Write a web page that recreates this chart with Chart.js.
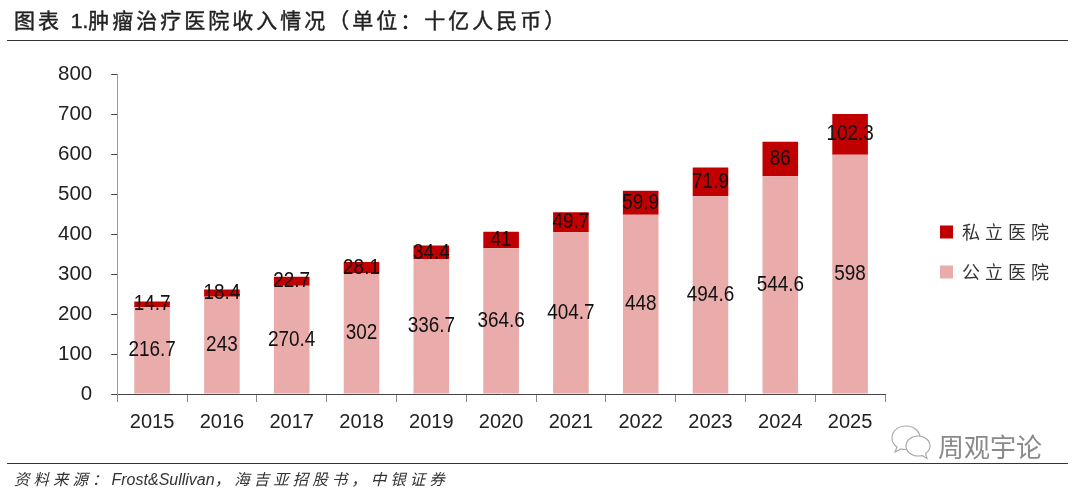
<!DOCTYPE html>
<html>
<head>
<meta charset="utf-8">
<script src="https://cdn.jsdelivr.net/npm/chart.js@4/dist/chart.umd.min.js"></script>
<style>
html,body{margin:0;padding:0;background:#fff;overflow:hidden;}
#wrap{position:relative;width:1080px;height:493px;}
#myChart{position:absolute;left:0;top:0;}
.title{position:absolute;left:14px;top:4px;font:21px "Liberation Sans","Noto Sans CJK SC";letter-spacing:3px;color:#222;white-space:nowrap;-webkit-text-stroke:0.4px #222;}
.title span{letter-spacing:0;}
.rule{position:absolute;left:7px;width:1061px;height:1px;background:#333;}
.source{position:absolute;left:14px;top:467px;font:italic 15.5px "Liberation Sans","Noto Sans CJK SC";letter-spacing:4px;color:#333;white-space:nowrap;}
.source span{font:italic 16px "Liberation Sans";letter-spacing:0;}
.mark{position:absolute;left:938px;top:427px;font:26px "Noto Sans CJK SC";color:#8a8a8a;white-space:nowrap;}
.icon{position:absolute;left:886px;top:424px;}
</style>
</head>
<body>
<div id="wrap">
	<canvas id="myChart" width="1080" height="493"></canvas>
	<div class="title">图表 <span>1.</span>肿瘤治疗医院收入情况（单位：十亿人民币）</div>
	<div class="rule" style="top:40px"></div>
	<div class="rule" style="top:463px"></div>
	<div class="source">资料来源：<span>Frost&amp;Sullivan</span>，海吉亚招股书，中银证券</div>
	<svg class="icon" width="50" height="40" viewBox="0 0 50 40" fill="#fff" stroke="#aaa" stroke-width="1.2">
		<path d="M20 2c-8 0-14 5-14 12 0 4 2 7 5 9l-2 5 6-3c2 .5 3 .5 5 .5 8 0 14-6 14-12S28 2 20 2z"/>
		<path d="M32 12c-7 0-12 4.500-12 10s5 10 12 10c1.500 0 3 0 4-.5l5 3-1.500-5c3-2 4.500-4.500 4.500-7.500 0-5.500-5-10-12-10z"/>
	</svg>
	<div class="mark">周观宇论</div>
</div>
<script>
var years   = ["2015","2016","2017","2018","2019","2020","2021","2022","2023","2024","2025"];
var publicH = [216.7,243,270.4,302,336.7,364.6,404.7,448,494.6,544.6,598];
var privateH= [14.7,18.4,22.7,28.1,34.4,41,49.7,59.9,71.9,86,102.3];
var yTicks  = [0,100,200,300,400,500,600,700,800];

var cjk = '"Noto Sans CJK SC"';
var latin = '"Liberation Sans"';

//writes the values in the middle of every bar segment
const barLabels = {
	id: 'barLabels',
	afterDatasetsDraw(chart){
		var ctx = chart.ctx;
		ctx.font = "22px "+latin;
		ctx.fillStyle = "#111";
		ctx.textAlign = "center";
		ctx.textBaseline = "middle";
		chart.data.datasets.forEach((ds,i) => {
			chart.getDatasetMeta(i).data.forEach((bar,j) => {
				var mid = (bar.y + bar.base)/2;
				//the original digits are a bit condensed
				ctx.save();
				ctx.translate(bar.x, mid);
				ctx.scale(0.86, 1);
				ctx.fillText(String(ds.data[j]), 0, 0);
				ctx.restore();
			});
		});
	}
};

//legend sits apart from the plot, with spaced out letters
const legendPlace = {
	id: 'legendPlace',
	beforeUpdate(chart){
		var lg = chart.legend;
		if(lg.placed){return;}
		lg.placed = true;
		var fit = lg.fit, draw = lg.draw;
		lg.fit = function(){
			fit.call(this);
			this.width = 167;
		};
		lg.draw = function(){
			var ctx = this.ctx;
			ctx.save();
			ctx.letterSpacing = '5px';
			ctx.translate(33, -6);
			draw.call(this);
			ctx.restore();
		};
	}
};

const data = {
	labels: years,
	datasets: [
	{
		label: '公立医院',
		data: publicH,
		backgroundColor: '#e9acab',
		stack: 'a'
	},
	{
		label: '私立医院',
		data: privateH,
		backgroundColor: '#c00000',
		stack: 'a'
	}
	]
};

const config = {
	type: 'bar',
	data: data,
	plugins: [barLabels, legendPlace],
	options: {
		responsive: false,
		animation: false,
		layout: {padding: {left: 39, right: 28, top: 74, bottom: 51}},
		datasets: {bar: {categoryPercentage: 0.51, barPercentage: 1}},
		plugins: {
			tooltip: {enabled: false},
			title: {display: false},
			legend: {
				position: 'right',
				reverse: true,
				labels: {
					boxWidth: 13, boxHeight: 13, padding: 22,
					color: '#333',
					font: {family: cjk, size: 18}
				}
			}
		},
		scales: {
			x: {
				stacked: true,
				border: {color: '#444'},
				grid: {drawOnChartArea: false, tickLength: 8, color: '#888'},
				ticks: {color: '#222', font: {family: latin, size: 20}, padding: 8, maxRotation: 0}
			},
			y: {
				stacked: true,
				min: 0, max: 800,
				afterBuildTicks(axis){ axis.ticks = yTicks.map(v => ({value: v})); },
				border: {color: '#999'},
				grid: {drawOnChartArea: false, tickLength: 6, color: '#444'},
				ticks: {color: '#222', font: {family: latin, size: 20.5}, padding: 19}
			}
		}
	}
};

const myChart = new Chart(document.getElementById('myChart'), config);
</script>
</body>
</html>
